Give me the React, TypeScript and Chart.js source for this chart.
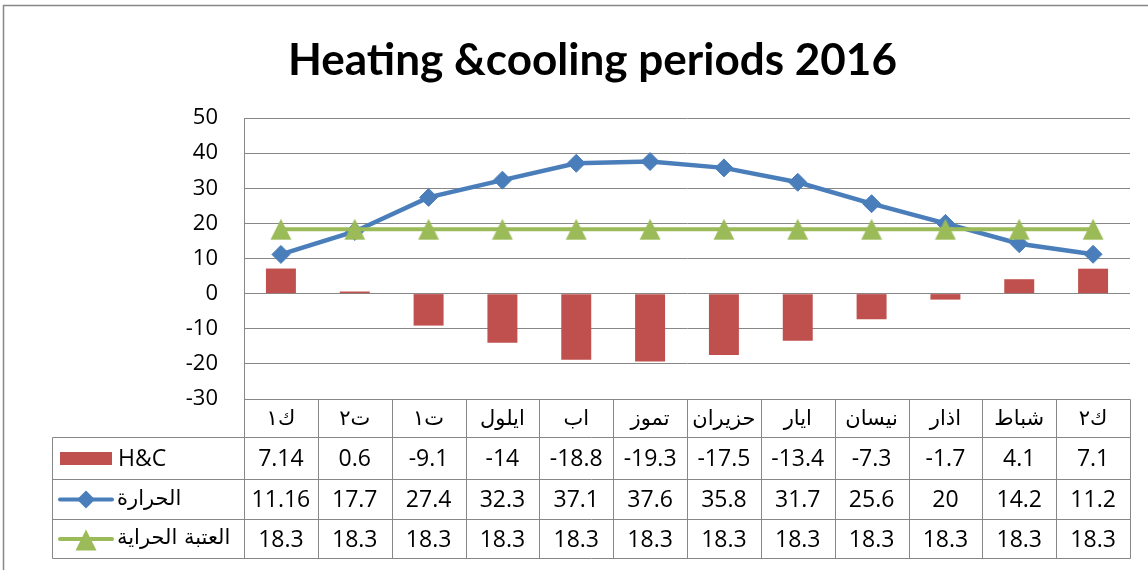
import React, { useEffect, useRef } from 'react';
import { Chart, registerables } from 'chart.js';

Chart.register(...registerables);

const chartTitle = 'Heating &cooling periods 2016';
const categories = ['ك١', 'ت٢', 'ت١', 'ايلول', 'اب', 'تموز', 'حزيران', 'ايار', 'نيسان', 'اذار', 'شباط', 'ك٢'];
const hcName = 'H&C';
const tempName = 'الحرارة';
const thresholdName = 'العتبة الحراية';
const hcValues = [7.14, 0.6, -9.1, -14, -18.8, -19.3, -17.5, -13.4, -7.3, -1.7, 4.1, 7.1];
const tempValues = [11.16, 17.7, 27.4, 32.3, 37.1, 37.6, 35.8, 31.7, 25.6, 20, 14.2, 11.2];
const thresholdValues = [18.3, 18.3, 18.3, 18.3, 18.3, 18.3, 18.3, 18.3, 18.3, 18.3, 18.3, 18.3];
const yMin = -30;
const yMax = 50;
const yStep = 10;

const RED = '#C0504D';
const BLUE = '#4A7EBB';
const GREEN = '#9BBB59';
const GRID = '#878787';
const NUM_FONT = '"Open Sans", "DejaVu Sans", sans-serif';
const AR_FONT = '"DejaVu Sans", sans-serif';

function makeTriangle(): HTMLCanvasElement {
  const c = document.createElement('canvas');
  c.width = 22;
  c.height = 22;
  const g = c.getContext('2d')!;
  g.fillStyle = GREEN;
  g.beginPath();
  g.moveTo(11, 0.5);
  g.lineTo(21.5, 21.5);
  g.lineTo(0.5, 21.5);
  g.closePath();
  g.fill();
  return c;
}

export default function App() {
  const ref = useRef<HTMLCanvasElement | null>(null);

  useEffect(() => {
    document.body.style.margin = '0';
    const canvas = ref.current!;
    const tri = makeTriangle();

    const tablePlugin = {
      id: 'excelTable',
      afterDraw(chart: any) {
        const ctx: CanvasRenderingContext2D = chart.ctx;
        const ca = chart.chartArea;
        const xs = chart.scales.x;
        const n = categories.length;
        const colW = (ca.right - ca.left) / n;
        const legendLeft = 52.5;
        const top = Math.round(ca.bottom) + 0.5;
        const rowH = [38, 42, 40, 39];
        const ys = [top];
        for (const h of rowH) ys.push(ys[ys.length - 1] + h);
        const right = Math.round(ca.right) + 0.5;

        ctx.save();
        // outer frame
        ctx.strokeStyle = GRID;
        ctx.lineWidth = 1.5;
        ctx.beginPath();
        ctx.moveTo(3.5, 575);
        ctx.lineTo(3.5, 5.5);
        ctx.lineTo(1150, 5.5);
        ctx.stroke();

        // title
        ctx.fillStyle = '#000';
        ctx.font = 'bold 40px Lato, "DejaVu Sans", sans-serif';
        const w40 = ctx.measureText(chartTitle).width;
        const size = (40 * 609) / w40;
        ctx.font = `bold ${size.toFixed(2)}px Lato, "DejaVu Sans", sans-serif`;
        ctx.textAlign = 'center';
        ctx.textBaseline = 'alphabetic';
        ctx.fillText(chartTitle, 592.5, 75);

        // table lines
        ctx.strokeStyle = GRID;
        ctx.lineWidth = 1;
        ctx.beginPath();
        for (let i = 0; i <= n; i++) {
          const x = Math.round(ca.left + i * colW) + 0.5;
          ctx.moveTo(x, top);
          ctx.lineTo(x, ys[4]);
        }
        ctx.moveTo(legendLeft, ys[1]);
        ctx.lineTo(legendLeft, ys[4]);
        for (let r = 1; r <= 4; r++) {
          ctx.moveTo(legendLeft, ys[r]);
          ctx.lineTo(right, ys[r]);
        }
        ctx.moveTo(Math.round(ca.left) + 0.5, top);
        ctx.lineTo(right, top);
        ctx.stroke();

        // header labels
        ctx.textAlign = 'center';
        ctx.textBaseline = 'middle';
        ctx.font = `21px ${AR_FONT}`;
        categories.forEach((c, i) => {
          ctx.fillText(c, xs.getPixelForValue(i), (ys[0] + ys[1]) / 2 + 1);
        });

        // values
        ctx.font = `23px ${NUM_FONT}`;
        const rows = [hcValues, tempValues, thresholdValues];
        rows.forEach((vals, r) => {
          const cy = (ys[r + 1] + ys[r + 2]) / 2 + 1;
          vals.forEach((v, i) => {
            ctx.fillText(String(v), xs.getPixelForValue(i), cy);
          });
        });

        // legend keys
        const textX = 117;
        let cy = (ys[1] + ys[2]) / 2;
        ctx.fillStyle = RED;
        ctx.fillRect(60, cy - 6.5, 52, 13);
        ctx.fillStyle = '#000';
        ctx.textAlign = 'left';
        ctx.font = `23px ${NUM_FONT}`;
        ctx.fillText(hcName, textX + 1, cy + 1);

        cy = (ys[2] + ys[3]) / 2;
        ctx.strokeStyle = BLUE;
        ctx.lineWidth = 4;
        ctx.lineCap = 'round';
        ctx.beginPath();
        ctx.moveTo(60, cy);
        ctx.lineTo(112, cy);
        ctx.stroke();
        ctx.fillStyle = BLUE;
        ctx.beginPath();
        ctx.moveTo(86 - 9, cy);
        ctx.lineTo(86, cy - 9);
        ctx.lineTo(86 + 9, cy);
        ctx.lineTo(86, cy + 9);
        ctx.closePath();
        ctx.fill();
        ctx.fillStyle = '#000';
        ctx.font = `21px ${AR_FONT}`;
        ctx.fillText(tempName, textX, cy);

        cy = (ys[3] + ys[4]) / 2;
        ctx.strokeStyle = GREEN;
        ctx.beginPath();
        ctx.moveTo(60, cy);
        ctx.lineTo(112, cy);
        ctx.stroke();
        ctx.drawImage(tri, 86 - 11, cy - 10);
        ctx.fillStyle = '#000';
        ctx.fillText(thresholdName, textX, cy);

        ctx.restore();
      },
    };

    const chart = new Chart(canvas, {
      type: 'bar',
      data: {
        labels: categories,
        datasets: [
          {
            type: 'line',
            label: thresholdName,
            data: thresholdValues,
            borderColor: GREEN,
            backgroundColor: GREEN,
            borderWidth: 4,
            pointStyle: tri as any,
            pointRadius: 11,
            tension: 0,
            order: 1,
          },
          {
            type: 'line',
            label: tempName,
            data: tempValues,
            borderColor: BLUE,
            backgroundColor: BLUE,
            borderWidth: 4.5,
            pointStyle: 'rectRot',
            pointRadius: 9,
            pointBorderWidth: 1,
            pointBackgroundColor: BLUE,
            pointBorderColor: BLUE,
            tension: 0,
            order: 2,
          },
          {
            type: 'bar',
            label: hcName,
            data: hcValues,
            backgroundColor: RED,
            borderWidth: 0,
            categoryPercentage: 1,
            barPercentage: 0.406,
            order: 3,
          },
        ],
      },
      options: {
        responsive: false,
        animation: false,
        layout: { padding: { left: 184, right: 18, top: 118, bottom: 171 } },
        plugins: {
          legend: { display: false },
          tooltip: { enabled: false },
          title: { display: false },
        },
        scales: {
          x: { display: false, offset: true },
          y: {
            min: yMin,
            max: yMax,
            afterFit: (s: any) => {
              s.width = 60;
            },
            ticks: {
              stepSize: yStep,
              color: '#000',
              padding: 26,
              font: { family: NUM_FONT, size: 22 },
            },
            grid: { color: GRID, lineWidth: 1, drawTicks: false },
            border: { color: GRID, width: 1 },
          },
        },
      },
      plugins: [tablePlugin],
    });

    return () => chart.destroy();
  }, []);

  return (
    <div style={{ width: 1148, height: 570, background: '#fff' }}>
      <canvas ref={ref} width={1148} height={570} style={{ display: 'block' }} />
    </div>
  );
}
